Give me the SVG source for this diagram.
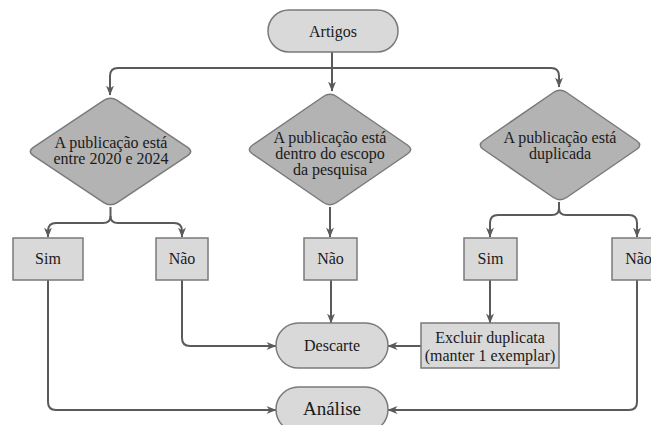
<svg xmlns="http://www.w3.org/2000/svg" width="651" height="425" viewBox="0 0 651 425">
<style>
.pill{fill:#d9d9d9;stroke:#7a7a7a;stroke-width:1.5}
.box{fill:#d9d9d9;stroke:#7a7a7a;stroke-width:1.5}
.dia{fill:#b3b3b3;stroke:#7a7a7a;stroke-width:1.5}
text{font-family:'Liberation Serif','Times New Roman','DejaVu Serif',serif;font-size:16px;fill:#1a1a1a;text-anchor:middle;dominant-baseline:central}
.c{fill:none;stroke:#5a5a5a;stroke-width:2;marker-end:url(#ah)}
.c0{fill:none;stroke:#5a5a5a;stroke-width:2}
</style>
<defs>
<marker id="ah" markerUnits="userSpaceOnUse" markerWidth="10" markerHeight="10" viewBox="0 0 10 10" refX="9.5" refY="5" orient="auto">
<path d="M0,1 L10,5 L0,9 L3,5 Z" fill="#5a5a5a"/>
</marker>
</defs>
<rect width="651" height="425" fill="#ffffff"/>
<g id="connectors">
<path class="c0" d="M332,52 L332,68"/>
<path class="c" d="M332,68 L332,91"/>
<path class="c" d="M332,68 L118,68 Q110,68 110,76 L110,95"/>
<path class="c" d="M332,68 L551,68 Q559,68 559,76 L559,87"/>
<path class="c0" d="M110.5,207 L110.5,216"/>
<path class="c" d="M110.5,216 Q110.5,223 103,223 L56,223 Q48,223 48,231 L48,237"/>
<path class="c" d="M110.5,216 Q110.5,223 118,223 L174,223 Q182,223 182,231 L182,237"/>
<path class="c" d="M330,207 L330,237"/>
<path class="c0" d="M559,202 L559,208"/>
<path class="c" d="M559,208 Q559,215 552,215 L498,215 Q490,215 490,223 L490,237"/>
<path class="c" d="M559,208 Q559,215 566,215 L629,215 Q637,215 637,223 L637,237"/>
<path class="c" d="M48,280 L48,402 Q48,410 56,410 L276,410"/>
<path class="c" d="M182,280 L182,338 Q182,346 190,346 L276,346"/>
<path class="c" d="M331,280 L331,323"/>
<path class="c" d="M490,280 L490,323"/>
<path class="c" d="M421,346 L388,346"/>
<path class="c" d="M637,280 L637,402 Q637,410 629,410 L388,410"/>
</g>
<g id="artigos">
<rect class="pill" x="268" y="10" width="130" height="42" rx="21"/>
<text x="333" y="31" font-family="Liberation Serif, serif">Artigos</text>
</g>
<g id="d1">
<path class="dia" d="M117.2,100.4 L187.3,147.1 Q194,151.5 187.3,155.9 L117.2,202.6 Q110.5,207 103.8,202.6 L33.7,155.9 Q27,151.5 33.7,147.1 L103.8,100.4 Q110.5,96 117.2,100.4 Z"/>
<text x="111" y="142">A publicação está</text>
<text x="111" y="158">entre 2020 e 2024</text>
</g>
<g id="d2">
<path class="dia" d="M336.6,96.5 L407.4,145 Q414,149.5 407.4,154 L336.6,202.5 Q330,207 323.4,202.5 L252.6,154 Q246,149.5 252.6,145 L323.4,96.5 Q330,92 336.6,96.5 Z"/>
<text x="330" y="137">A publicação está</text>
<text x="330" y="153">dentro do escopo</text>
<text x="330" y="169">da pesquisa</text>
</g>
<g id="d3">
<path class="dia" d="M566.6,92.5 L636.4,140.5 Q643,145 636.4,149.5 L566.6,197.5 Q560,202 553.4,197.5 L483.6,149.5 Q477,145 483.6,140.5 L553.4,92.5 Q560,88 566.6,92.5 Z"/>
<text x="560" y="137">A publicação está</text>
<text x="560" y="153">duplicada</text>
</g>
<g id="sim1">
<rect class="box" x="13" y="238" width="70" height="42"/>
<text x="48" y="258">Sim</text>
</g>
<g id="nao1">
<rect class="box" x="156" y="238" width="52" height="42"/>
<text x="182" y="258">Não</text>
</g>
<g id="nao2">
<rect class="box" x="304" y="238" width="53" height="42"/>
<text x="330.5" y="258">Não</text>
</g>
<g id="sim3">
<rect class="box" x="464" y="238" width="53" height="42"/>
<text x="490.5" y="258">Sim</text>
</g>
<g id="nao4">
<rect class="box" x="612" y="238" width="53" height="42"/>
<text x="638.5" y="258">Não</text>
</g>
<g id="excluir">
<rect class="box" x="421" y="323" width="138" height="45"/>
<text x="490" y="337">Excluir duplicata</text>
<text x="490" y="355">(manter 1 exemplar)</text>
</g>
<g id="descarte">
<rect class="pill" x="276" y="323" width="112" height="45" rx="22.5"/>
<text x="332" y="345">Descarte</text>
</g>
<g id="analise">
<rect class="pill" x="276" y="387" width="112" height="45" rx="22.5"/>
<text x="332" y="408" style="font-size:19px">Análise</text>
</g>
</svg>
